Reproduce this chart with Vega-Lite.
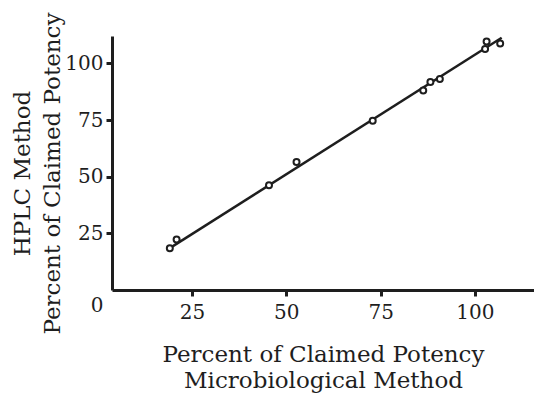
{
  "$schema": "https://vega.github.io/schema/vega-lite/v6.json",
  "width": 422,
  "height": 254,
  "autosize": {"type": "none"},
  "padding": {"left": 112, "top": 36, "right": 0, "bottom": 103},
  "background": "white",
  "config": {
    "view": {"stroke": null},
    "font": "DejaVu Serif",
    "axis": {
      "grid": false,
      "domainColor": "#1e1e1e",
      "domainWidth": 3,
      "tickColor": "#1e1e1e",
      "tickWidth": 3,
      "tickSize": 6,
      "labelColor": "#1e1e1e",
      "titleColor": "#1e1e1e",
      "labelFont": "DejaVu Serif",
      "titleFont": "DejaVu Serif",
      "labelFontSize": 20,
      "titleFontSize": 23,
      "titleFontWeight": "normal"
    }
  },
  "datasets": {
    "points": [
      {"micro": 19.1, "hplc": 18.4},
      {"micro": 20.9, "hplc": 22.3},
      {"micro": 45.4, "hplc": 46.2},
      {"micro": 52.7, "hplc": 56.5},
      {"micro": 72.9, "hplc": 74.7},
      {"micro": 86.3, "hplc": 88.0},
      {"micro": 88.2, "hplc": 91.8},
      {"micro": 90.7, "hplc": 93.1},
      {"micro": 102.7, "hplc": 106.4},
      {"micro": 103.1, "hplc": 109.7},
      {"micro": 106.7, "hplc": 108.8}
    ],
    "fit": [
      {"micro": 19.1, "hplc": 18.5},
      {"micro": 107.1, "hplc": 111.3}
    ]
  },
  "layer": [
    {
      "data": {"name": "fit"},
      "mark": {"type": "line", "color": "#1e1e1e", "strokeWidth": 2.5},
      "encoding": {
        "x": {
          "field": "micro", "type": "quantitative",
          "scale": {"domain": [3.77, 115.67], "nice": false, "zero": false},
          "axis": {
            "values": [25, 50, 75, 100],
            "labelPadding": 6,
            "title": ["Percent of Claimed Potency", "Microbiological Method"],
            "titleLineHeight": 26,
            "titlePadding": 21
          }
        },
        "y": {
          "field": "hplc", "type": "quantitative",
          "scale": {"domain": [0, 112.1], "nice": false},
          "axis": {
            "values": [0, 25, 50, 75, 100],
            "labelPadding": 3,
            "labelBaseline": "middle",
            "labelOffset": {"condition": {"test": "datum.value == 0", "value": 15}, "value": 0},
            "tickOpacity": {"condition": {"test": "datum.value == 0", "value": 0}, "value": 1},
            "title": ["HPLC Method", "Percent of Claimed Potency"],
            "titleLineHeight": 30,
            "titlePadding": 0,
            "titleY": 137
          }
        }
      }
    },
    {
      "data": {"name": "points"},
      "mark": {"type": "point", "shape": "circle", "filled": false, "color": "#1e1e1e", "strokeWidth": 2, "size": 36, "fill": "white", "fillOpacity": 1},
      "encoding": {
        "x": {"field": "micro", "type": "quantitative"},
        "y": {"field": "hplc", "type": "quantitative"}
      }
    }
  ]
}
